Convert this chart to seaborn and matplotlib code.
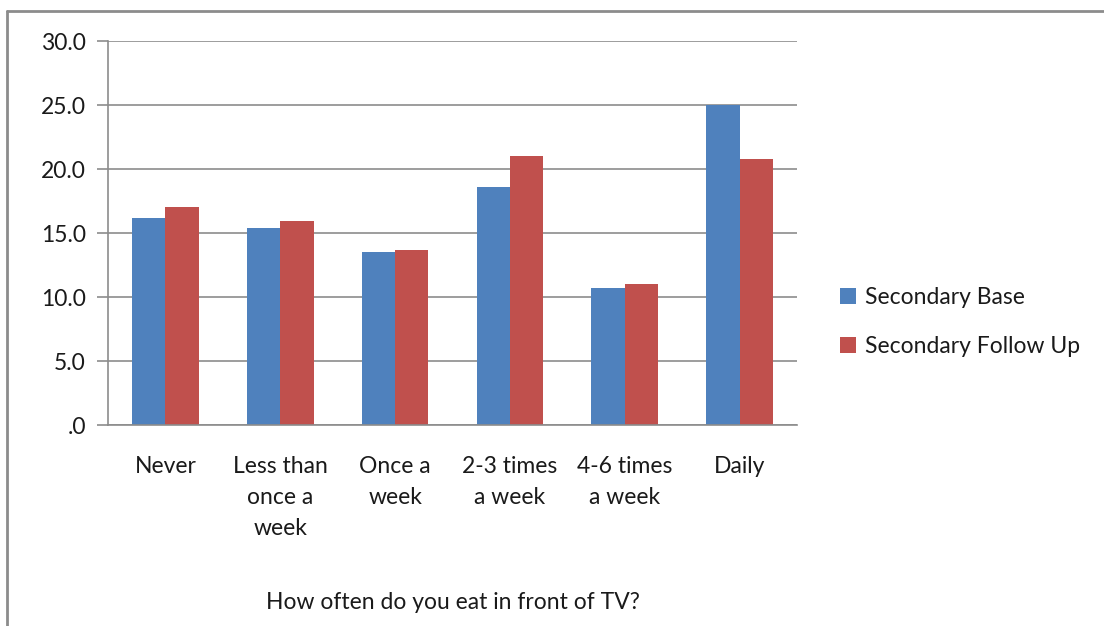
import matplotlib
matplotlib.use("Agg")
import matplotlib.pyplot as plt
from matplotlib.lines import Line2D
from matplotlib.ticker import FuncFormatter
import pandas as pd
import seaborn as sns

CATEGORIES = [
    "Never",
    "Less than\nonce a\nweek",
    "Once a\nweek",
    "2-3 times\na week",
    "4-6 times\na week",
    "Daily",
]
SERIES = ["Secondary Base", "Secondary Follow Up"]
BASE_VALUES = [16.2, 15.4, 13.5, 18.6, 10.7, 25.0]
FOLLOW_UP_VALUES = [17.0, 15.9, 13.7, 21.0, 11.0, 20.8]
Y_TICKS = [0, 5, 10, 15, 20, 25, 30]

COLORS = ["#4F81BD", "#C0504D"]
GRID_COLOR = "#8C8C8C"
TEXT_COLOR = "#1A1A1A"
FONT_SIZE = 16.5


def fmt_tick(v, pos):
    s = f"{v:.1f}"
    return ".0" if s == "0.0" else s


def main():
    df = pd.DataFrame({
        "category": CATEGORIES * 2,
        "series": [SERIES[0]] * len(CATEGORIES) + [SERIES[1]] * len(CATEGORIES),
        "value": BASE_VALUES + FOLLOW_UP_VALUES,
    })

    sns.set_theme(style="white")
    plt.rcParams["font.family"] = ["Lato", "DejaVu Sans"]

    fig = plt.figure(figsize=(11.04, 6.26), dpi=100)
    ax = fig.add_axes([108 / 1104, 1 - 425 / 626, 689 / 1104, 384 / 626])

    sns.barplot(
        data=df, x="category", y="value", hue="series",
        palette=COLORS, width=0.58, ax=ax, saturation=1,
        edgecolor="none", linewidth=0,
    )

    ax.set_xlim(-0.5, len(CATEGORIES) - 0.5)
    ax.set_ylim(0, 30)
    ax.set_yticks(Y_TICKS)
    ax.yaxis.set_major_formatter(FuncFormatter(fmt_tick))
    ax.grid(axis="y", color=GRID_COLOR, linewidth=1.2)
    ax.set_axisbelow(True)

    for side in ["top", "right"]:
        ax.spines[side].set_visible(False)
    for side in ["left", "bottom"]:
        ax.spines[side].set_color(GRID_COLOR)
        ax.spines[side].set_linewidth(1.2)

    ax.tick_params(axis="y", direction="out", length=8, width=1.2,
                   color=GRID_COLOR, labelsize=FONT_SIZE, labelcolor=TEXT_COLOR, pad=8, left=True)
    ax.tick_params(axis="x", length=0, labelsize=FONT_SIZE, labelcolor=TEXT_COLOR, pad=22)
    for lbl in ax.get_xticklabels():
        lbl.set_linespacing(1.6)
        lbl.set_verticalalignment("top")

    ax.set_ylabel("")
    ax.set_xlabel("How often do you eat in front of TV?", fontsize=FONT_SIZE,
                  color=TEXT_COLOR, labelpad=38)

    ax.legend(
        loc="center left", bbox_to_anchor=(819 / 1104, 1 - 322 / 626),
        bbox_transform=fig.transFigure, frameon=False, fontsize=FONT_SIZE,
        handlelength=0.7, handleheight=0.7, handletextpad=0.4, labelspacing=1.2,
    )
    leg = ax.get_legend()
    for t in leg.get_texts():
        t.set_color(TEXT_COLOR)

    # outer chart frame (top and left edges visible)
    fig.add_artist(Line2D([7 / 1104, 7 / 1104], [0, 1 - 11 / 626],
                          transform=fig.transFigure, color="#8C8C8C", linewidth=2))
    fig.add_artist(Line2D([7 / 1104, 1], [1 - 11 / 626, 1 - 11 / 626],
                          transform=fig.transFigure, color="#8C8C8C", linewidth=2))

    fig.savefig("out.png", dpi=100)
    plt.close(fig)


if __name__ == "__main__":
    main()
